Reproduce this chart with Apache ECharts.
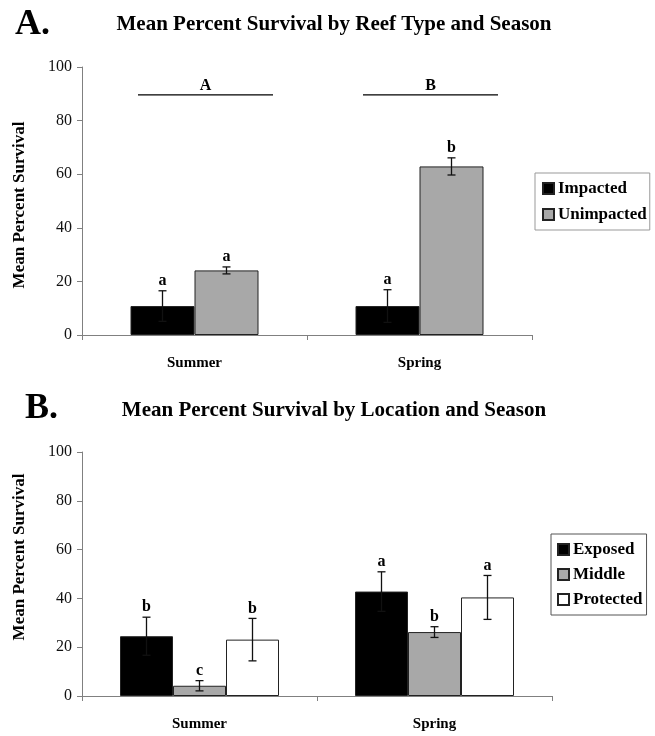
<!DOCTYPE html>
<html>
<head>
<meta charset="utf-8">
<script src="https://cdn.jsdelivr.net/npm/echarts@6/dist/echarts.min.js"></script>
<style>html,body{margin:0;padding:0;background:#fff}#c{width:655px;height:736px}</style>
</head>
<body>
<div id="c"></div>
<script>
// ---- Data ----
const seasons = ['Summer', 'Spring'];
const yTicksMax = 100;
// Panel A
const reefTypes = ['Impacted', 'Unimpacted'];
const impactedMean = [10.8, 10.8];
const impactedErr = [5.7, 6.1];
const impactedLetters = ['a', 'a'];
const unimpactedMean = [24.1, 62.9];
const unimpactedErr = [1.3, 3.2];
const unimpactedLetters = ['a', 'b'];
const seasonGroupLetters = ['A', 'B'];
const seasonGroupLevel = [89.6, 89.6];
// Panel B
const locations = ['Exposed', 'Middle', 'Protected'];
const exposedMean = [24.5, 42.8];
const exposedErr = [7.8, 8.1];
const exposedLetters = ['b', 'a'];
const middleMean = [4.2, 26.2];
const middleErr = [2.1, 2.2];
const middleLetters = ['c', 'b'];
const protectedMean = [23.1, 40.4];
const protectedErr = [8.7, 9.0];
const protectedLetters = ['b', 'a'];

// ---- Styles ----
const FONT = 'Liberation Serif';
const BW_A = 64, BW_B = 53;
const colA = ['#000000', '#a8a8a8'];
const colB = ['#000000', '#a8a8a8', '#ffffff'];

const chart = echarts.init(document.getElementById('c'), null, {renderer: 'canvas'});

function errSeries(name, grid, means, errs, letters, offset) {
  return {
    type: 'custom', name: name + '_err', xAxisIndex: grid, yAxisIndex: grid, z: 5,
    silent: true,
    data: means.map((m, i) => [i, m, errs[i], letters[i]]),
    renderItem: function (params, api) {
      const c = api.value(0), m = api.value(1), e = api.value(2);
      const top = api.coord([c, m + e]);
      const bot = api.coord([c, m - e]);
      const x = top[0] + offset;
      const cap = 4;
      return {
        type: 'group', children: [
          {type: 'line', shape: {x1: x, y1: top[1], x2: x, y2: bot[1]}, style: {stroke: '#111', lineWidth: 1.3}},
          {type: 'line', shape: {x1: x - cap, y1: top[1], x2: x + cap, y2: top[1]}, style: {stroke: '#111', lineWidth: 1.3}},
          {type: 'line', shape: {x1: x - cap, y1: bot[1], x2: x + cap, y2: bot[1]}, style: {stroke: '#111', lineWidth: 1.3}},
          {type: 'text', x: x, y: top[1] - 2, style: {text: letters[params.dataIndex], font: 'bold 16px ' + FONT, fill: '#000', align: 'center', verticalAlign: 'bottom'}}
        ]
      };
    }
  };
}

function barSeries(name, grid, data, color, bw) {
  return {
    type: 'bar', name: name, xAxisIndex: grid, yAxisIndex: grid, data: data,
    barWidth: bw, barGap: '0%', z: 2,
    itemStyle: {color: color, borderColor: '#222', borderWidth: 1}
  };
}

const axisLine = {show: true, lineStyle: {color: '#808080', width: 1}};
function yAxis(grid, pad) {
  return {
    type: 'value', gridIndex: grid, min: 0, max: yTicksMax, interval: 20,
    axisLine: axisLine, axisTick: {show: true, length: 5, lineStyle: {color: '#808080'}},
    splitLine: {show: false},
    axisLabel: {color: '#111', fontFamily: FONT, fontSize: 16, margin: 10},
    name: 'Mean Percent Survival', nameLocation: 'middle', nameGap: 54,
    nameTextStyle: {fontFamily: FONT, fontWeight: 'bold', fontSize: 17, color: '#000', padding: pad}
  };
}
function xAxis(grid) {
  return {
    type: 'category', gridIndex: grid, data: seasons,
    axisLine: axisLine, axisTick: {show: true, length: 5, lineStyle: {color: '#808080'}},
    axisLabel: {color: '#000', fontFamily: FONT, fontWeight: 'bold', fontSize: 15, margin: 21}
  };
}

const posA = -BW_A / 2, posB = BW_A / 2;

const option = {
  animation: false,
  backgroundColor: '#ffffff',
  title: [
    {text: 'A.', left: 10, top: 2, textStyle: {fontFamily: FONT, fontWeight: 'bold', fontSize: 36, color: '#000'}},
    {text: 'Mean Percent Survival by Reef Type and Season', left: 329, top: 9, textAlign: 'center',
      textStyle: {fontFamily: FONT, fontWeight: 'bold', fontSize: 21, color: '#000'}},
    {text: 'B.', left: 20, top: 386, textStyle: {fontFamily: FONT, fontWeight: 'bold', fontSize: 36, color: '#000'}},
    {text: 'Mean Percent Survival by Location and Season', left: 329, top: 395, textAlign: 'center',
      textStyle: {fontFamily: FONT, fontWeight: 'bold', fontSize: 21, color: '#000'}}
  ],
  legend: [
    {data: reefTypes, orient: 'vertical', left: 535, top: 173, itemWidth: 11, itemHeight: 11, itemGap: 9,
      padding: [7, 3, 7, 7], borderColor: '#999', borderWidth: 1, backgroundColor: '#fff', icon: 'rect',
      textStyle: {fontFamily: FONT, fontWeight: 'bold', fontSize: 17, color: '#000', padding: [0, 0, 0, -1]}},
    {data: locations, orient: 'vertical', left: 551, top: 534, itemWidth: 11, itemHeight: 11, itemGap: 8,
      padding: [7, 4, 7, 6], borderColor: '#555', borderWidth: 1, backgroundColor: '#fff', icon: 'rect',
      textStyle: {fontFamily: FONT, fontWeight: 'bold', fontSize: 17, color: '#000', padding: [0, 0, 0, -1]}}
  ],
  grid: [
    {left: 82, top: 67, width: 450, height: 268},
    {left: 82, top: 452, width: 470, height: 244}
  ],
  xAxis: [xAxis(0), xAxis(1)],
  yAxis: [yAxis(0, [0, 8, 0, 0]), yAxis(1, [0, 0, 0, 34])],
  series: [
    barSeries('Impacted', 0, impactedMean, colA[0], BW_A),
    barSeries('Unimpacted', 0, unimpactedMean, colA[1], BW_A),
    errSeries('Impacted', 0, impactedMean, impactedErr, impactedLetters, posA),
    errSeries('Unimpacted', 0, unimpactedMean, unimpactedErr, unimpactedLetters, posB),
    {
      type: 'custom', name: 'groups', xAxisIndex: 0, yAxisIndex: 0, silent: true,
      data: seasonGroupLevel.map((v, i) => [i, v]),
      renderItem: function (params, api) {
        const p = api.coord([api.value(0), api.value(1)]);
        const band = api.size([1, 0])[0];
        const hw = band * 0.3;
        return {type: 'group', children: [
          {type: 'line', shape: {x1: p[0] - hw + 11, y1: p[1], x2: p[0] + hw + 11, y2: p[1]}, style: {stroke: '#000', lineWidth: 1.3}},
          {type: 'text', x: p[0] + 11, y: p[1] - 1, style: {text: seasonGroupLetters[params.dataIndex], font: 'bold 16px ' + FONT, fill: '#000', align: 'center', verticalAlign: 'bottom'}}
        ]};
      }
    },
    barSeries('Exposed', 1, exposedMean, colB[0], BW_B),
    barSeries('Middle', 1, middleMean, colB[1], BW_B),
    barSeries('Protected', 1, protectedMean, colB[2], BW_B),
    errSeries('Exposed', 1, exposedMean, exposedErr, exposedLetters, -BW_B),
    errSeries('Middle', 1, middleMean, middleErr, middleLetters, 0),
    errSeries('Protected', 1, protectedMean, protectedErr, protectedLetters, BW_B)
  ]
};
chart.setOption(option);
</script>
</body>
</html>
